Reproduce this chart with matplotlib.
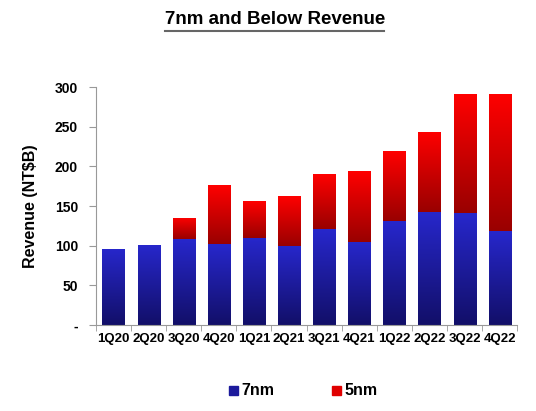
import numpy as np
import matplotlib
matplotlib.use("Agg")
import matplotlib.pyplot as plt
from matplotlib.colors import LinearSegmentedColormap
from matplotlib.lines import Line2D
from matplotlib.patches import Rectangle

quarters = ["1Q20", "2Q20", "3Q20", "4Q20", "1Q21", "2Q21",
            "3Q21", "4Q21", "1Q22", "2Q22", "3Q22", "4Q22"]
rev_7nm = [96, 101, 108, 102, 110, 100, 121, 105, 131, 143, 141, 118]
total_rev = [96, 101, 135, 176, 156, 163, 190, 194, 219, 244, 291, 291]
rev_5nm = [t - s for t, s in zip(total_rev, rev_7nm)]

plt.rcParams["font.family"] = ["Liberation Sans", "DejaVu Sans"]

blue_cmap = LinearSegmentedColormap.from_list("blue", ["#120f68", "#2727cc"])
red_cmap = LinearSegmentedColormap.from_list("red", ["#990000", "#ff0000"])


def gradient_fill(ax, bars, cmap):
    # paint each bar with a vertical gradient clipped to its rectangle
    grad = np.linspace(0, 1, 256).reshape(-1, 1)
    for b in bars:
        if b.get_height() <= 0:
            continue
        x0, y0 = b.get_x(), b.get_y()
        im = ax.imshow(grad, cmap=cmap, origin="lower", aspect="auto",
                       extent=[x0, x0 + b.get_width(), y0, y0 + b.get_height()],
                       zorder=2)
        im.set_clip_path(b)
        b.set_facecolor("none")


fig = plt.figure(figsize=(5.36, 4.11), dpi=100)
ax = fig.add_axes([0.179, 0.209, 0.786, 0.579])

x = np.arange(len(quarters))
b7 = ax.bar(x, rev_7nm, width=0.63, linewidth=0, zorder=2)
b5 = ax.bar(x, rev_5nm, width=0.63, bottom=rev_7nm, linewidth=0, zorder=2)
gradient_fill(ax, b7, blue_cmap)
gradient_fill(ax, b5, red_cmap)

ax.set_xlim(-0.5, len(quarters) - 0.5)
ax.set_ylim(0, 300)

ax.set_xticks(x)
ax.set_xticklabels(quarters, fontsize=9.5, fontweight="bold")
ax.set_xticks(np.arange(-0.5, len(quarters)), minor=True)
ax.tick_params(axis="x", which="major", length=0, pad=6)
ax.tick_params(axis="x", which="minor", length=4, color="#999999", direction="out")

ax.set_yticks([0, 50, 100, 150, 200, 250, 300])
ax.set_yticklabels(["-", "50", "100", "150", "200", "250", "300"],
                   fontsize=10, fontweight="bold")
ax.tick_params(axis="y", length=5, color="#999999", pad=8)
ax.set_ylabel("Revenue (NT$B)", fontsize=11.5, fontweight="bold", labelpad=12)

for side in ["top", "right"]:
    ax.spines[side].set_visible(False)
for side in ["left", "bottom"]:
    ax.spines[side].set_color("#999999")

# underlined title
fig.text(0.513, 0.953, "7nm and Below Revenue", ha="center", va="center",
         fontsize=13.5, fontweight="bold")
fig.add_artist(Line2D([0.307, 0.716], [0.925, 0.925], color="#666666", lw=1.5))

# legend at the bottom
fig.add_artist(Rectangle((0.428, 0.04), 0.016, 0.021, color="#1c1a9c"))
fig.text(0.451, 0.05, "7nm", ha="left", va="center", fontsize=11.5, fontweight="bold")
fig.add_artist(Rectangle((0.62, 0.04), 0.016, 0.021, color="#e00000"))
fig.text(0.643, 0.05, "5nm", ha="left", va="center", fontsize=11.5, fontweight="bold")

fig.savefig("out.png", dpi=100)
